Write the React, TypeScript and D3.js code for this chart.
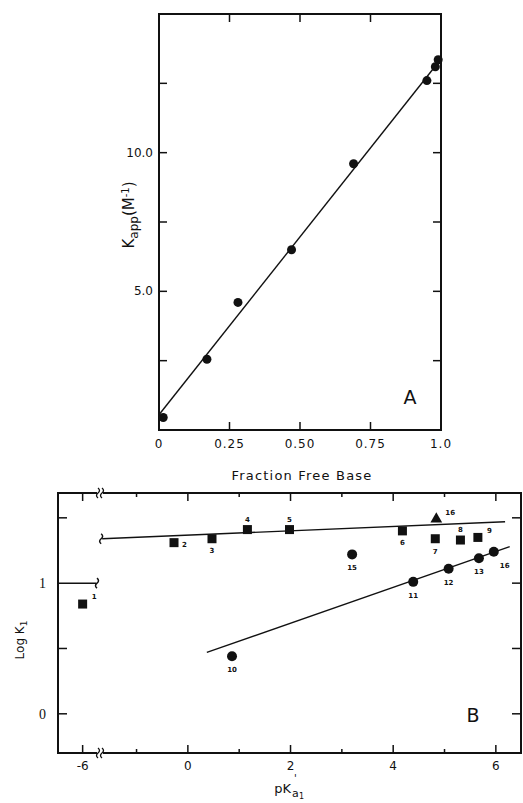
import React, { useEffect, useRef } from 'react';
import * as d3 from 'd3';

// Panel A: apparent binding constant vs fraction of free base
const fracFree = [0.015, 0.17, 0.28, 0.47, 0.69, 0.95, 0.98, 0.99];
const kapp = [0.45, 2.55, 4.6, 6.5, 9.6, 12.6, 13.1, 13.35];
const fitAX = [0, 0.99];
const fitAY = [0.55, 13.25];
const xTicksA = [0, 0.25, 0.5, 0.75, 1.0];
const xTickLabelsA = ['0', '0.25', '0.50', '0.75', '1.0'];
const yTicksA = [2.5, 5, 7.5, 10, 12.5];
const yTickLabelsA = ['', '5.0', '', '10.0', ''];

// Panel B: log K1 vs pKa'1 (compound 1 sits beyond the axis break)
const compound = ['1', '2', '3', '4', '5', '6', '7', '8', '9', '10', '11', '12', '13', '15', '16', '16'];
const pKa = [-6, -0.27, 0.47, 1.16, 1.98, 4.18, 4.82, 5.31, 5.65, 0.86, 4.39, 5.08, 5.67, 3.2, 5.96, 4.84];
const logK = [0.84, 1.31, 1.34, 1.41, 1.41, 1.4, 1.34, 1.33, 1.35, 0.44, 1.01, 1.11, 1.19, 1.22, 1.24, 1.49];
const marker = ['sq', 'sq', 'sq', 'sq', 'sq', 'sq', 'sq', 'sq', 'sq', 'ci', 'ci', 'ci', 'ci', 'ci', 'ci', 'tr'];
const fitUpperX = [-1.67, 6.18];
const fitUpperY = [1.34, 1.47];
const fitLowerX = [0.37, 6.27];
const fitLowerY = [0.47, 1.28];
const xTicksB = [-6, 0, 2, 4, 6];
const xMinorB = [-1, 1, 3, 5];
const yTicksB = [0, 0.5, 1, 1.5];
const yTickLabelsB = ['0', '', '1', ''];

// where each compound number sits relative to its marker
const labelPos: Record<number, [number, number, string]> = {
  0: [9, -5, 'start'], 1: [8, 4, 'start'], 2: [0, 14, 'middle'], 3: [0, -8, 'middle'],
  4: [0, -8, 'middle'], 5: [0, 14, 'middle'], 6: [0, 15, 'middle'], 7: [0, -8, 'middle'],
  8: [9, -4, 'start'], 9: [0, 16, 'middle'], 10: [0, 16, 'middle'], 11: [0, 16, 'middle'],
  12: [0, 16, 'middle'], 13: [0, 16, 'middle'], 14: [6, 16, 'start'], 15: [9, -4, 'start'],
};

const FONT = 'DejaVu Sans, Verdana, sans-serif';

function App() {
  const ref = useRef<SVGSVGElement>(null);

  useEffect(() => {
    const svg = d3.select(ref.current);
    svg.selectAll('*').remove();

    // ---------- panel A ----------
    const xA = d3.scaleLinear().domain([0, 1]).range([159, 441]);
    const yA = d3.scaleLinear().domain([0, 15]).range([430, 14]);
    const gA = svg.append('g');

    gA.append('rect')
      .attr('x', 159).attr('y', 14).attr('width', 282).attr('height', 416)
      .attr('fill', 'none').attr('stroke', '#111').attr('stroke-width', 2);

    // inward ticks on all four sides
    xTicksA.slice(1, 4).forEach(t => {
      gA.append('line').attr('x1', xA(t)).attr('x2', xA(t)).attr('y1', 430).attr('y2', 422)
        .attr('stroke', '#111').attr('stroke-width', 1.5);
      gA.append('line').attr('x1', xA(t)).attr('x2', xA(t)).attr('y1', 14).attr('y2', 22)
        .attr('stroke', '#111').attr('stroke-width', 1.5);
    });
    yTicksA.forEach(t => {
      gA.append('line').attr('x1', 159).attr('x2', 167).attr('y1', yA(t)).attr('y2', yA(t))
        .attr('stroke', '#111').attr('stroke-width', 1.5);
      gA.append('line').attr('x1', 441).attr('x2', 433).attr('y1', yA(t)).attr('y2', yA(t))
        .attr('stroke', '#111').attr('stroke-width', 1.5);
    });

    gA.selectAll('text.xt').data(xTicksA).join('text')
      .attr('x', d => xA(d)).attr('y', 448)
      .attr('text-anchor', 'middle').attr('font-family', FONT).attr('font-size', 12)
      .attr('letter-spacing', 1).attr('fill', '#111')
      .text((d, i) => xTickLabelsA[i]);

    gA.selectAll('text.yt').data(yTicksA).join('text')
      .attr('x', 153).attr('y', d => yA(d) + 4)
      .attr('text-anchor', 'end').attr('font-family', FONT).attr('font-size', 12)
      .attr('fill', '#111')
      .text((d, i) => yTickLabelsA[i]);

    gA.append('line')
      .attr('x1', xA(fitAX[0])).attr('y1', yA(fitAY[0]))
      .attr('x2', xA(fitAX[1])).attr('y2', yA(fitAY[1]))
      .attr('stroke', '#111').attr('stroke-width', 1.4);

    gA.selectAll('circle').data(fracFree).join('circle')
      .attr('cx', d => xA(d)).attr('cy', (d, i) => yA(kapp[i]))
      .attr('r', 4.5).attr('fill', '#111');

    const yl = gA.append('text')
      .attr('transform', 'translate(134,215) rotate(-90)')
      .attr('text-anchor', 'middle').attr('font-family', FONT).attr('font-size', 15)
      .attr('fill', '#111');
    yl.append('tspan').text('K');
    yl.append('tspan').attr('font-size', 12).attr('dy', 4).text('app');
    yl.append('tspan').attr('dy', -4).text('(M');
    yl.append('tspan').attr('font-size', 10).attr('dy', -5).text('-1');
    yl.append('tspan').attr('dy', 5).text(')');

    gA.append('text').attr('x', 410).attr('y', 404)
      .attr('text-anchor', 'middle').attr('font-family', FONT).attr('font-size', 19)
      .attr('fill', '#111').text('A');

    gA.append('text').attr('x', 302).attr('y', 480)
      .attr('text-anchor', 'middle').attr('font-family', FONT).attr('font-size', 13)
      .attr('letter-spacing', 1.2).attr('fill', '#111').text('Fraction Free Base');

    // ---------- panel B ----------
    const xB = d3.scaleLinear().domain([-2.53, 6.49]).range([58, 521]);
    const yB = d3.scaleLinear().domain([-0.3, 1.69]).range([753, 493]);
    // values left of the axis break are shifted in next to the frame
    const px = (v: number) => (v < -3 ? xB(v + 3.95) : xB(v));
    const gB = svg.append('g');

    gB.append('rect')
      .attr('x', 58).attr('y', 493).attr('width', 463).attr('height', 260)
      .attr('fill', 'none').attr('stroke', '#111').attr('stroke-width', 2);

    xTicksB.forEach(t => {
      gB.append('line').attr('x1', px(t)).attr('x2', px(t)).attr('y1', 753).attr('y2', 745)
        .attr('stroke', '#111').attr('stroke-width', 1.5);
      gB.append('line').attr('x1', px(t)).attr('x2', px(t)).attr('y1', 493).attr('y2', 501)
        .attr('stroke', '#111').attr('stroke-width', 1.5);
    });
    xMinorB.forEach(t => {
      gB.append('line').attr('x1', px(t)).attr('x2', px(t)).attr('y1', 753).attr('y2', 749)
        .attr('stroke', '#111').attr('stroke-width', 1.5);
      gB.append('line').attr('x1', px(t)).attr('x2', px(t)).attr('y1', 493).attr('y2', 497)
        .attr('stroke', '#111').attr('stroke-width', 1.5);
    });
    yTicksB.forEach((t, i) => {
      gB.append('line').attr('x1', 58).attr('x2', yTickLabelsB[i] === '1' ? 96 : 67)
        .attr('y1', yB(t)).attr('y2', yB(t))
        .attr('stroke', '#111').attr('stroke-width', 1.5);
      gB.append('line').attr('x1', 521).attr('x2', 512).attr('y1', yB(t)).attr('y2', yB(t))
        .attr('stroke', '#111').attr('stroke-width', 1.5);
    });

    // axis break marks
    const brk = (x: number, y: number) => {
      gB.append('rect').attr('x', x - 3).attr('y', y - 5).attr('width', 6).attr('height', 10).attr('fill', '#fff');
      [-2, 2].forEach(o => {
        gB.append('path')
          .attr('d', `M${x + o},${y - 5} q3,2.5 0,5 q-3,2.5 0,5`)
          .attr('fill', 'none').attr('stroke', '#111').attr('stroke-width', 1.3);
      });
    };
    const tilde = (x: number, y: number) => {
      gB.append('path')
        .attr('d', `M${x},${y - 5} q3,2.5 0,5 q-3,2.5 0,5`)
        .attr('fill', 'none').attr('stroke', '#111').attr('stroke-width', 1.5);
    };
    brk(100, 493);
    brk(100, 753);
    tilde(97, yB(1));
    tilde(xB(fitUpperX[0]) - 1, yB(fitUpperY[0]));

    gB.selectAll('text.xt').data(xTicksB).join('text')
      .attr('x', d => px(d)).attr('y', 770)
      .attr('text-anchor', 'middle').attr('font-family', FONT).attr('font-size', 12)
      .attr('fill', '#111')
      .text(d => (d < 0 ? '-' + Math.abs(d) : String(d)));

    gB.selectAll('text.yt').data(yTicksB).join('text')
      .attr('x', 46).attr('y', d => yB(d) + 5)
      .attr('text-anchor', 'end').attr('font-family', 'Liberation Serif, serif').attr('font-size', 14)
      .attr('fill', '#111')
      .text((d, i) => yTickLabelsB[i]);

    [[fitUpperX, fitUpperY], [fitLowerX, fitLowerY]].forEach(([fx, fy]) => {
      gB.append('line')
        .attr('x1', xB(fx[0])).attr('y1', yB(fy[0]))
        .attr('x2', xB(fx[1])).attr('y2', yB(fy[1]))
        .attr('stroke', '#111').attr('stroke-width', 1.4);
    });

    pKa.forEach((v, i) => {
      const cx = px(v);
      const cy = yB(logK[i]);
      if (marker[i] === 'sq') {
        gB.append('rect').attr('x', cx - 4.5).attr('y', cy - 4.5).attr('width', 9).attr('height', 9).attr('fill', '#111');
      } else if (marker[i] === 'ci') {
        gB.append('circle').attr('cx', cx).attr('cy', cy).attr('r', 5).attr('fill', '#111');
      } else {
        gB.append('path').attr('d', d3.symbol(d3.symbolTriangle, 60)()).attr('transform', `translate(${cx},${cy})`).attr('fill', '#111');
      }
      const [dx, dy, anchor] = labelPos[i];
      gB.append('text').attr('x', cx + dx).attr('y', cy + dy)
        .attr('text-anchor', anchor).attr('font-family', FONT).attr('font-size', 7)
        .attr('font-weight', 'bold').attr('fill', '#111').text(compound[i]);
    });

    gB.append('text').attr('x', 473).attr('y', 722)
      .attr('text-anchor', 'middle').attr('font-family', FONT).attr('font-size', 19)
      .attr('fill', '#111').text('B');

    const ylb = gB.append('text')
      .attr('transform', 'translate(24,640) rotate(-90)')
      .attr('text-anchor', 'middle').attr('font-family', FONT).attr('font-size', 12)
      .attr('fill', '#111');
    ylb.append('tspan').text('Log K');
    ylb.append('tspan').attr('font-size', 9).attr('dy', 3).text('1');

    // x label pK'a1 built from separate pieces so the prime sits above the "a"
    const lab = (x: number, y: number, s: number, t: string, anchor = 'start') =>
      gB.append('text').attr('x', x).attr('y', y).attr('text-anchor', anchor)
        .attr('font-family', FONT).attr('font-size', s).attr('fill', '#111').text(t);
    lab(291, 793, 13, 'pK', 'end');
    lab(294, 782, 10, "'");
    lab(292, 797, 11, 'a');
    lab(299, 799, 8, '1');
  }, []);

  return (
    <svg ref={ref} width={523} height={803}
      style={{ position: 'absolute', top: 0, left: 0, background: '#fff' }} />
  );
}

export default App;
